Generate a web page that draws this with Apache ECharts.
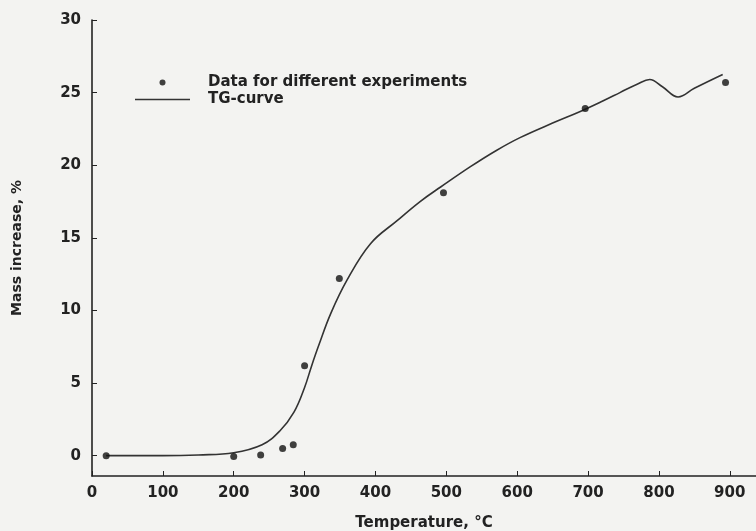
<!DOCTYPE html>
<html>
<head>
<meta charset="utf-8">
<script src="https://cdn.jsdelivr.net/npm/echarts@6/dist/echarts.min.js"></script>
<style>
html,body{margin:0;padding:0;background:#f3f3f1;}
#chart{width:756px;height:531px;}
</style>
</head>
<body>
<div id="chart"></div>
<script>
// Experimental data points [temperature °C, mass increase %]
const pointTemps = [20, 200, 238, 269, 284, 300, 349, 496, 696, 894];
const pointMass  = [0, -0.05, 0.05, 0.5, 0.75, 6.2, 12.2, 18.1, 23.9, 25.7];

// TG-curve
const curveTemps = [20, 100, 150, 200, 240, 265, 285, 300, 310, 320, 337, 360, 393, 431, 463, 492, 534, 570, 604, 650, 689, 720, 745, 770, 787, 805, 827, 850, 890];
const curveMass  = [0, 0, 0.05, 0.2, 0.75, 1.7, 3.0, 4.7, 6.2, 7.6, 9.8, 12.1, 14.6, 16.2, 17.5, 18.5, 19.9, 21.0, 21.9, 22.9, 23.7, 24.4, 25.0, 25.6, 25.9, 25.4, 24.7, 25.3, 26.25];

const xTicks = [0, 100, 200, 300, 400, 500, 600, 700, 800, 900];
const yTicks = [0, 5, 10, 15, 20, 25, 30];

const seriesNames = ['Data for different experiments', 'TG-curve'];
const xTitle = 'Temperature, \u00B0C';
const yTitle = 'Mass increase, %';

const font = 'DejaVu Sans';
const ink = '#222';

const chart = echarts.init(document.getElementById('chart'));
chart.setOption({
  backgroundColor: '#f3f3f1',
  animation: false,
  grid: { left: 92, right: 0, top: 20, bottom: 55, containLabel: false, outerBoundsMode: 'none' },
  legend: {
    orient: 'vertical',
    left: 130,
    top: 69,
    itemWidth: 55,
    itemHeight: 6,
    itemGap: 0,
    data: [
      { name: seriesNames[0], icon: 'circle' },
      { name: seriesNames[1], icon: 'path://M0,0 H55 V1.6 H0 Z' }
    ],
    textStyle: { fontFamily: font, fontWeight: 'bold', fontSize: 15, color: ink, padding: [0, 0, 0, 13], lineHeight: 17 }
  },
  xAxis: {
    type: 'value',
    min: 0,
    max: 937,
    name: xTitle,
    nameLocation: 'middle',
    nameGap: 40,
    nameTextStyle: { fontFamily: font, fontWeight: 'bold', fontSize: 15, color: ink },
    axisLine: { show: true, onZero: false, lineStyle: { color: ink, width: 1.6 } },
    axisTick: { show: true, inside: true, length: 5, customValues: xTicks, lineStyle: { color: ink } },
    axisLabel: { customValues: xTicks, fontFamily: font, fontWeight: 'bold', fontSize: 15, color: ink, margin: 10 },
    splitLine: { show: false }
  },
  yAxis: {
    type: 'value',
    min: -1.4,
    max: 30,
    name: yTitle,
    nameLocation: 'middle',
    nameGap: 68,
    nameTextStyle: { fontFamily: font, fontWeight: 'bold', fontSize: 14, color: ink },
    axisLine: { show: true, onZero: false, lineStyle: { color: ink, width: 1.6 } },
    axisTick: { show: true, inside: true, length: 5, customValues: yTicks, lineStyle: { color: ink } },
    axisLabel: { customValues: yTicks, fontFamily: font, fontWeight: 'bold', fontSize: 15, color: ink, margin: 11 },
    splitLine: { show: false }
  },
  series: [
    {
      name: seriesNames[0],
      type: 'scatter',
      symbol: 'circle',
      symbolSize: 7,
      itemStyle: { color: '#111' },
      data: pointTemps.map((t, i) => [t, pointMass[i]]),
      z: 3
    },
    {
      name: seriesNames[1],
      type: 'line',
      smooth: 0.4,
      symbol: 'none',
      lineStyle: { color: '#333', width: 1.6 },
      itemStyle: { color: '#333' },
      data: curveTemps.map((t, i) => [t, curveMass[i]]),
      z: 2
    }
  ]
});
</script>
</body>
</html>
